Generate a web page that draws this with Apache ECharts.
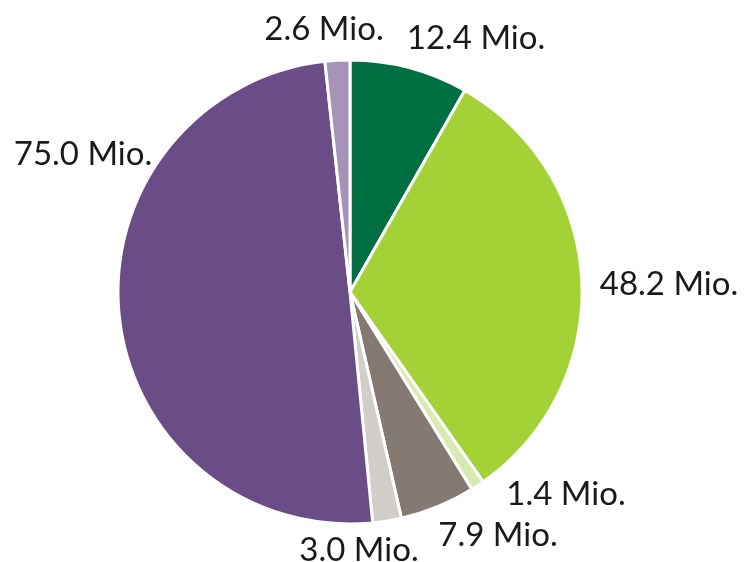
<!DOCTYPE html>
<html>
<head>
<meta charset="utf-8">
<script src="https://cdn.jsdelivr.net/npm/echarts@6/dist/echarts.min.js"></script>
<style>
  html, body { margin: 0; padding: 0; background: #fff; }
  #chart { width: 748px; height: 562px; }
</style>
</head>
<body>
<div id="chart"></div>
<script>
// slices clockwise from 12 o'clock
const values = [12.4, 48.2, 1.4, 7.9, 3.0, 75.0, 2.6]
const colors = ['#007042', '#a2d235', '#d7ebb0', '#857a72', '#d1cec9', '#6a4c87', '#a593b8']
const unit = 'Mio.'

const chart = echarts.init(document.getElementById('chart'))

// label anchor points (text centre), same order as values
const labelPos = [[476, 38], [669, 284], [566, 494], [498, 535], [359, 550], [83, 154], [324, 29]]

const option = {
  animation: false,
  series: [
    {
      type: 'pie',
      center: [350, 292],
      radius: 232,
      startAngle: 90,
      clockwise: true,
      avoidLabelOverlap: false,
      data: values.map((v, i) => ({ value: v, itemStyle: { color: colors[i] } })),
      itemStyle: {
        borderColor: '#fff',
        borderWidth: 3
      },
      label: {
        show: true,
        position: 'outside',
        formatter: p => p.value.toFixed(1) + ' ' + unit,
        fontFamily: 'Lato, sans-serif',
        fontSize: 33,
        color: '#1a1a1a'
      },
      labelLine: { show: false },
      labelLayout: p => ({
        x: labelPos[p.dataIndex][0],
        y: labelPos[p.dataIndex][1],
        align: 'center',
        verticalAlign: 'middle',
        hideOverlap: false
      })
    }
  ]
}

chart.setOption(option)
</script>
</body>
</html>
